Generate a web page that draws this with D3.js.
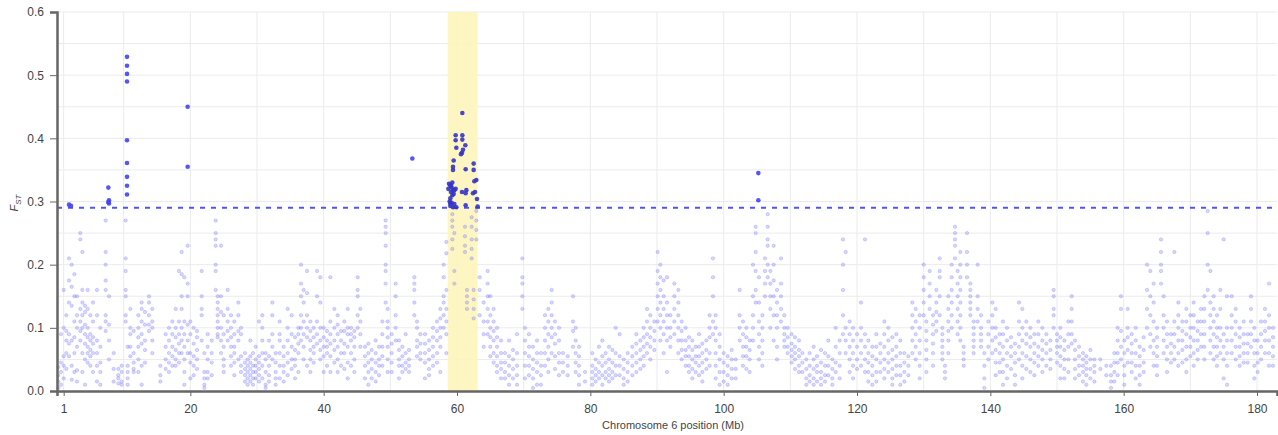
<!DOCTYPE html>
<html>
<head>
<meta charset="utf-8">
<script src="https://cdn.jsdelivr.net/npm/d3@7"></script>
<style>
  body { margin: 0; background: #fff; }
  svg { display: block; font-family: "Liberation Sans", Arial, sans-serif; }
  .grid line { stroke: #ebebeb; stroke-width: 1; }
  .axis path, .axis line { stroke: #666; }
  .axis text { fill: #444; font-size: 12px; }
</style>
</head>
<body>
<svg id="chart" width="1278" height="435"></svg>
<script>
// threshold and highlighted window (Mb)
const threshold = 0.29;
const windowMb = [58.6, 63.1];
const xTicks = [1, 20, 40, 60, 80, 100, 120, 140, 160, 180];
const yTicks = [0, 0.1, 0.2, 0.3, 0.4, 0.5, 0.6];

// SNPs above threshold
const sigPos = [1.8, 2.1, 7.7, 7.8, 7.7, 7.8,
    10.5, 10.5, 10.5, 10.5, 10.5, 10.5, 10.5, 10.5, 10.5,
    19.6, 19.6, 53.3,
    60.8, 59.8, 59.8, 60.8, 60.8, 59.9, 61.25, 60.9, 60.75, 60.6, 59.5, 59.4, 59.4, 61.3, 62.5, 62.5, 62.9, 62.6,
    58.8, 59.0, 59.2, 59.4, 59.1, 59.5, 59.3, 59.0, 59.6, 59.8, 58.9, 59.2, 59.6, 59.0, 59.4, 58.7, 59.1, 59.3,
    60.75, 61.4, 61.3, 62.4, 62.7, 63.0, 63.1, 61.3, 59.9, 59.0,
    105.2, 105.2];
const sigFst = [0.295, 0.293, 0.322, 0.302, 0.299, 0.297,
    0.529, 0.515, 0.502, 0.490, 0.397, 0.361, 0.339, 0.325, 0.311,
    0.450, 0.355, 0.368,
    0.440, 0.405, 0.397, 0.405, 0.398, 0.385, 0.389, 0.382, 0.377, 0.375, 0.365, 0.355, 0.350, 0.351, 0.360, 0.350, 0.334, 0.332,
    0.328, 0.325, 0.322, 0.318, 0.315, 0.312, 0.310, 0.305, 0.318, 0.320, 0.300, 0.298, 0.296, 0.293, 0.291, 0.320, 0.326, 0.330,
    0.315, 0.318, 0.313, 0.313, 0.315, 0.304, 0.292, 0.294, 0.291, 0.297,
    0.345, 0.302];

// background SNPs: [position Mb, Fst x1000 ...]
const bg0to20 = [
  [0.2, 5, 15, 25, 38], [0.6, 10, 30, 45, 90], [1.0, 160, 100, 55, 40, 20], [1.4, 120, 95, 80, 60, 35],
  [1.8, 210, 175, 140, 90, 75, 55], [2.2, 200, 165, 135, 80, 40, 18], [2.6, 185, 150, 110, 85, 60, 30],
  [3.0, 150, 120, 100, 70, 33, 15], [3.5, 250, 240, 130, 110, 95, 80], [3.8, 220, 160, 140, 120, 100, 60, 30],
  [4.2, 135, 125, 105, 90, 75, 50, 10], [4.6, 160, 130, 100, 85, 70, 60, 45], [5.0, 120, 90, 80, 65, 55, 40],
  [5.4, 140, 110, 85, 75, 60, 30], [6.0, 160, 120, 80, 60, 40, 15], [6.5, 100, 70, 45, 30, 10],
  [7.3, 270, 220, 200, 175, 160, 120, 110, 95], [7.8, 150, 105, 80, 50], [8.5, 60, 35, 15],
  [9.2, 35, 20, 12, 25], [9.7, 30, 15, 10, 40], [10.3, 270, 210, 190, 160, 150, 120, 110],
  [10.6, 70, 40, 30, 20, 10], [11.0, 130, 100, 90, 70, 55], [11.5, 60, 45, 35, 30, 95],
  [12.2, 120, 100, 85, 70, 50, 30], [12.7, 140, 130, 110, 90, 75, 40, 10], [13.2, 125, 105, 80, 65, 45],
  [13.8, 150, 140, 120, 105, 95], [14.3, 130, 110, 100, 80, 60], [15.5, 40, 25, 15],
  [16.3, 90, 70, 50, 35], [16.8, 100, 80, 60, 45, 30], [17.3, 110, 90, 70, 55, 40],
  [17.8, 130, 100, 85, 65, 50, 40], [18.3, 190, 110, 90, 75, 60, 45], [18.7, 220, 185, 150, 130, 100, 80, 60],
  [19.1, 180, 110, 90, 70, 50, 30, 10], [19.6, 230, 170, 150, 105, 80, 60]
];
const bg20to40 = [
  [20.0, 110, 90, 60, 45, 20], [20.5, 100, 75, 55, 40, 25], [21.0, 95, 85, 65, 50, 35],
  [21.7, 190, 150, 130, 120, 80], [22.1, 60, 30, 20, 10, 5], [22.6, 90, 70, 50, 30, 20],
  [23.2, 80, 60, 45, 25], [23.8, 270, 250, 240, 230, 200, 190, 160], [24.1, 150, 140, 130, 120, 110, 100, 90, 85],
  [24.6, 230, 150, 125, 100, 80, 60], [25.0, 120, 90, 70, 50, 40, 30], [25.6, 160, 130, 110, 95, 80],
  [26.1, 120, 100, 85, 70, 55, 40], [26.6, 110, 90, 70, 60, 45, 25], [27.2, 140, 120, 95, 80, 50],
  [27.6, 100, 90, 55, 40, 30], [28.2, 60, 45, 35, 25, 15], [28.6, 50, 40, 30, 20, 10],
  [29.0, 80, 55, 45, 35, 25, 15], [29.4, 60, 40, 30, 20, 10], [29.8, 70, 50, 40, 30, 20],
  [30.3, 110, 55, 45, 35, 25, 15], [30.8, 120, 100, 80, 60, 40, 20], [31.3, 60, 50, 30, 10, 5],
  [31.8, 80, 55, 40, 25, 15], [32.3, 140, 120, 90, 70, 50], [32.8, 60, 45, 30, 20, 10],
  [33.4, 110, 90, 80, 60, 40, 20], [34.0, 70, 55, 40, 30, 15], [34.6, 130, 100, 80, 60, 45, 25],
  [35.2, 120, 90, 70, 50, 35], [35.7, 85, 65, 50, 40, 20], [36.2, 100, 90, 75, 60, 30],
  [36.6, 200, 170, 150, 120, 100, 80], [37.0, 160, 140, 110, 90, 70, 50], [37.5, 190, 155, 120, 100, 85, 40],
  [38.0, 110, 95, 80, 65, 50, 30], [38.5, 100, 85, 70, 60, 45], [39.0, 190, 150, 110, 90, 75],
  [39.5, 180, 140, 100, 80, 65, 50]
];
const bg40to60 = [
  [40.0, 100, 85, 70, 55, 30], [40.5, 95, 80, 70, 60, 40], [41.0, 180, 110, 90, 75, 55, 30],
  [41.6, 130, 100, 80, 65, 45], [42.1, 120, 105, 90, 70, 50, 30], [42.6, 95, 80, 60, 40],
  [43.1, 110, 95, 75, 60, 35], [43.6, 130, 100, 90, 70, 45, 20], [44.1, 100, 90, 80, 60, 40],
  [44.6, 95, 85, 70, 50, 30], [45.1, 180, 160, 150, 120, 100], [45.5, 130, 110, 90, 70],
  [46.2, 70, 55, 40, 20], [46.7, 75, 60, 45, 30, 10], [47.2, 65, 50, 35, 20],
  [47.8, 80, 60, 45, 30, 15], [48.3, 70, 50, 40, 25], [48.8, 110, 90, 70, 55, 40],
  [49.3, 270, 260, 250, 230, 200, 190, 170, 140], [49.6, 130, 110, 100, 85, 70, 50, 30], [50.2, 90, 75, 60, 45, 30],
  [50.8, 170, 150, 120, 100, 80], [51.3, 80, 65, 50, 40, 20], [51.8, 70, 55, 40, 30],
  [52.3, 90, 60, 45, 35], [52.8, 65, 50, 40, 30], [53.6, 180, 170, 160, 140, 120],
  [54.0, 110, 100, 80, 70, 55], [54.5, 90, 75, 60, 50], [55.2, 90, 75, 60, 45, 20],
  [55.8, 80, 65, 50, 35, 25], [56.4, 100, 85, 70, 55, 40], [57.0, 110, 95, 80, 60, 45],
  [57.5, 130, 115, 100, 85, 70, 30], [58.0, 200, 180, 150, 140, 120, 100], [58.4, 236, 218, 160, 130, 110, 90, 60],
  [59.3, 280, 270, 260, 240, 225], [59.6, 250, 190, 170], [61.2, 260, 245, 230, 220],
  [61.5, 160, 150, 140, 130], [62.2, 275, 260, 240, 225, 210], [62.5, 160, 145, 130, 115],
  [62.9, 285, 270, 255, 240]
];
const bg60to84 = [
  [63.4, 180, 160, 120], [64.0, 140, 110, 90, 70], [64.6, 190, 170, 150, 130, 110, 90],
  [65.0, 150, 120, 100, 85, 70, 55], [65.5, 130, 110, 95, 80, 60, 45], [66.0, 100, 85, 70, 55, 40, 30],
  [66.6, 80, 60, 45, 35, 20], [67.2, 60, 45, 30, 20], [67.8, 80, 55, 40, 25, 10],
  [68.4, 65, 50, 35, 20], [69.0, 90, 60, 40, 25, 10], [69.8, 210, 180, 170, 150, 130],
  [70.2, 100, 80, 60, 40, 20], [70.8, 90, 70, 55, 40, 25], [71.4, 70, 50, 35, 20, 5],
  [72.0, 80, 60, 45, 30, 10], [72.6, 60, 40, 25, 10], [73.2, 120, 100, 80, 60, 40],
  [73.7, 130, 110, 90, 70, 50, 30], [74.2, 160, 140, 120, 100, 85, 60], [74.7, 110, 90, 75, 55, 35],
  [75.3, 100, 80, 60, 45, 25], [75.9, 60, 45, 30], [76.6, 55, 40, 25],
  [77.4, 150, 110, 95, 70], [77.8, 100, 80, 60, 45, 30], [78.3, 70, 55, 40, 25, 10],
  [79.2, 30, 15], [80.3, 60, 40, 30, 20, 10], [80.8, 50, 35, 25, 15],
  [81.3, 70, 45, 30, 20], [81.8, 80, 55, 40, 25, 10], [82.3, 60, 45, 30, 20],
  [82.8, 70, 50, 35, 25, 15], [83.3, 65, 45, 30, 20], [83.8, 100, 60, 40, 25]
];
const bg84to104 = [
  [84.4, 90, 55, 40, 25], [85.0, 50, 35, 20, 10], [85.6, 60, 45, 30, 15],
  [86.3, 70, 55, 40, 25], [86.9, 90, 75, 60, 45, 30], [87.5, 80, 65, 50, 35],
  [88.0, 100, 85, 70, 55, 40], [88.5, 130, 110, 90, 75, 60], [89.0, 120, 100, 85, 70, 50],
  [89.6, 110, 95, 80, 65], [90.1, 220, 190, 170, 150, 130, 110], [90.5, 200, 180, 160, 140, 120, 100, 80],
  [91.0, 175, 150, 130, 110, 90, 60], [91.5, 180, 140, 120, 100, 80, 30], [92.0, 120, 100, 85, 70],
  [92.6, 170, 150, 130, 110, 90], [93.2, 160, 140, 120, 100, 80, 60], [93.7, 110, 95, 80, 65, 50],
  [94.3, 100, 80, 65, 55, 40], [94.8, 85, 70, 55, 40, 30], [95.3, 80, 65, 50, 35, 20],
  [95.8, 70, 55, 45, 30], [96.3, 90, 70, 55, 40, 25], [96.8, 75, 60, 45, 30, 15],
  [97.4, 80, 65, 50, 35], [97.9, 120, 100, 85, 60, 40], [98.4, 210, 180, 150, 110, 90],
  [98.8, 120, 100, 80, 60, 40, 20], [99.4, 90, 70, 50, 30, 10], [100.0, 60, 45, 30, 15],
  [100.6, 55, 40, 25, 10], [101.2, 65, 50, 35, 20], [101.8, 50, 35, 20],
  [102.4, 160, 120, 100, 80], [102.9, 110, 90, 70, 55, 40], [103.4, 100, 85, 70, 55, 35],
  [103.9, 80, 65, 50, 30]
];
const bg104to124 = [
  [104.4, 200, 150, 120, 100, 80], [104.8, 260, 250, 220, 190, 160, 140], [105.3, 180, 140, 110, 90, 70, 50],
  [105.8, 120, 100, 80, 60, 40], [106.2, 210, 190, 170, 150], [106.6, 280, 260, 240, 230, 200, 180],
  [107.0, 190, 170, 150, 130, 100], [107.5, 230, 200, 175, 150, 120, 80], [108.0, 160, 140, 120, 100, 70, 50],
  [108.6, 210, 170, 150, 130, 110], [109.1, 120, 100, 90, 80, 70], [109.6, 100, 85, 70, 60],
  [110.2, 90, 75, 65, 55, 45], [110.7, 85, 70, 60, 50, 35], [111.3, 80, 65, 55, 40, 30],
  [111.8, 60, 45, 30], [112.4, 50, 35, 20, 10], [112.9, 60, 40, 25, 15],
  [113.5, 70, 50, 35, 20, 10], [114.0, 55, 40, 30, 15], [114.6, 65, 45, 30, 20, 10],
  [115.2, 60, 40, 25, 15], [115.7, 80, 55, 40, 25], [116.3, 50, 35, 20, 10],
  [116.8, 100, 70, 45, 30], [117.4, 80, 60, 40, 20], [117.9, 240, 200, 160, 120, 90],
  [118.3, 220, 100, 80, 60], [118.9, 110, 90, 70, 50, 30], [119.4, 100, 80, 60, 40, 20],
  [120.0, 90, 70, 50, 35], [120.6, 140, 100, 80, 60, 40], [121.2, 240, 90, 70, 50, 30],
  [121.7, 80, 60, 45, 30, 15], [122.3, 70, 55, 40, 25, 10], [122.9, 90, 70, 50, 30, 15],
  [123.5, 75, 60, 45, 30]
];
const bg124to144 = [
  [124.1, 110, 90, 70, 50, 35, 20], [124.7, 100, 80, 60, 45, 30], [125.3, 85, 65, 50, 35, 20, 10],
  [125.9, 90, 70, 55, 40, 25], [126.5, 80, 60, 40, 25, 10], [127.1, 60, 45, 30, 15],
  [127.7, 55, 40, 25], [128.3, 140, 120, 100, 80, 60], [128.8, 130, 110, 90, 70, 50],
  [129.4, 120, 100, 80, 60, 40, 20], [130.0, 200, 180, 160, 140, 120], [130.4, 110, 95, 80, 65, 50, 30],
  [130.9, 190, 170, 150, 130], [131.4, 120, 105, 90, 75, 60, 40], [131.9, 160, 140, 125, 110, 95],
  [132.4, 210, 190, 180, 150, 120], [132.8, 100, 90, 80, 70, 60, 50], [133.2, 40, 30, 20],
  [133.7, 150, 130, 110, 95, 80, 60], [134.2, 200, 180, 160, 140, 120, 100], [134.7, 260, 250, 240, 230, 210],
  [135.1, 190, 170, 150, 130, 110, 90], [135.5, 220, 200, 180, 160, 140, 120, 100, 80], [136.0, 70, 60, 50, 40],
  [136.5, 250, 220, 200, 180], [137.0, 170, 160, 150, 140, 130, 120], [137.5, 110, 100, 90, 80, 70, 60],
  [138.1, 200, 150, 130, 110], [138.6, 120, 100, 90, 80, 70], [139.1, 60, 40, 20, 5],
  [139.7, 110, 90, 70, 50], [140.3, 140, 120, 100, 80, 60], [140.8, 130, 100, 85, 65, 45, 25],
  [141.4, 90, 75, 60, 45, 30], [141.9, 110, 90, 70, 50, 30, 10], [142.5, 100, 80, 60, 40, 20],
  [143.1, 85, 70, 55, 35], [143.7, 75, 60, 45, 25, 10]
];
const bg144to163 = [
  [144.3, 140, 110, 90, 70, 50], [144.8, 130, 100, 80, 60, 40, 20], [145.4, 110, 90, 75, 55, 35],
  [146.0, 100, 85, 70, 50, 30], [146.6, 90, 75, 60, 45, 25], [147.2, 110, 90, 70, 55, 40],
  [147.8, 100, 80, 65, 50, 30], [148.4, 90, 75, 60, 40], [149.0, 80, 65, 50, 35],
  [149.5, 160, 150, 130, 120, 100], [150.0, 90, 80, 70, 60, 45], [150.5, 100, 85, 70, 55, 40, 20],
  [151.1, 80, 65, 50, 35, 20], [151.7, 110, 90, 70, 50, 30], [152.2, 150, 130, 110, 90, 75],
  [152.7, 80, 65, 50, 35, 20], [153.3, 70, 55, 40, 25], [153.9, 60, 50, 40, 30, 15],
  [154.4, 55, 45, 35, 25, 10], [155.0, 65, 50, 35, 20], [155.6, 50, 40, 30, 15],
  [156.5, 50, 35], [157.4, 40, 25], [158.1, 40, 25, 15, 5],
  [158.6, 60, 45, 30, 15], [159.1, 100, 80, 60, 45, 25], [159.6, 150, 130, 95, 70, 50],
  [160.1, 80, 60, 40, 25, 10], [160.6, 130, 100, 85, 65, 45], [161.2, 90, 75, 60, 45, 30],
  [161.8, 100, 80, 60, 40, 20], [162.4, 70, 55, 40, 25, 10], [163.0, 85, 65, 45, 30]
];
const bg163to183 = [
  [163.5, 200, 160, 130, 100], [164.0, 190, 150, 120, 90, 70], [164.5, 170, 140, 110, 80, 60, 40],
  [165.0, 100, 85, 70, 55, 40, 25], [165.6, 240, 220, 200, 190, 170], [166.0, 150, 120, 100, 80, 60],
  [166.5, 110, 90, 70, 50, 30], [167.1, 90, 75, 60, 45], [167.6, 220, 110, 90, 70, 50],
  [168.2, 140, 120, 100, 80, 60, 40], [168.8, 110, 95, 80, 65, 45], [169.4, 130, 110, 90, 70, 50, 30],
  [170.0, 120, 100, 85, 70, 55], [170.5, 140, 120, 100, 80, 60, 40], [171.1, 110, 95, 80, 65, 50],
  [171.6, 130, 110, 90, 70], [172.1, 150, 130, 110, 90, 70, 50], [172.6, 285, 250, 200, 160],
  [173.0, 190, 140, 120, 100, 80, 60], [173.5, 150, 130, 110, 90, 70, 50], [174.0, 120, 100, 85, 70, 55, 40],
  [174.5, 160, 130, 100, 80, 60], [175.0, 240, 90, 70, 50, 20], [175.5, 150, 100, 80, 60, 40, 10],
  [176.2, 150, 120, 100, 80, 60], [176.8, 130, 110, 90, 70, 50], [177.4, 100, 85, 70, 55, 40],
  [178.0, 110, 90, 75, 60, 45], [178.6, 90, 75, 60, 45], [179.1, 150, 130, 110, 90, 70],
  [179.6, 100, 80, 60, 40, 20], [180.1, 80, 60, 45, 30], [180.6, 110, 90, 70, 50],
  [181.2, 130, 110, 95, 80, 60], [181.8, 170, 120, 100, 80, 60, 40], [182.4, 100, 85, 70, 55, 40]
];

const bgColumns = [].concat(bg0to20, bg20to40, bg40to60, bg60to84, bg84to104,
    bg104to124, bg124to144, bg144to163, bg163to183);

// flatten columns into points
let bgPoints = [];
bgColumns.forEach((col) => {
    for (let i = 1; i < col.length; ++i) {
        bgPoints.push({ pos: col[0], fst: col[i] / 1000 });
    }
});
const sigPoints = sigPos.map((p, i) => ({ pos: p, fst: sigFst[i] }));

const svg = d3.select('#chart');
const margin = { top: 12, right: 1, bottom: 44, left: 57 };
const width = 1278 - margin.left - margin.right;
const height = 435 - margin.top - margin.bottom;

const chart = svg.append('g')
    .attr('transform', `translate(${margin.left}, ${margin.top})`);

const xScale = d3.scaleLinear().domain([0, 183]).range([0, width]);
const yScale = d3.scaleLinear().domain([0, 0.6]).range([height, 0]);

// grid
chart.append('g')
    .attr('class', 'grid')
    .selectAll('line.h')
    .data(d3.range(1, 13).map((d) => d * 0.05))
    .enter()
    .append('line')
    .attr('x1', 0)
    .attr('x2', width)
    .attr('y1', (d) => yScale(d))
    .attr('y2', (d) => yScale(d));

chart.append('g')
    .attr('class', 'grid')
    .selectAll('line.v')
    .data([1].concat(d3.range(10, 190, 10)))
    .enter()
    .append('line')
    .attr('x1', (d) => xScale(d))
    .attr('x2', (d) => xScale(d))
    .attr('y1', 0)
    .attr('y2', height);

// highlighted window
chart.append('rect')
    .attr('x', xScale(windowMb[0]))
    .attr('y', 0)
    .attr('width', xScale(windowMb[1]) - xScale(windowMb[0]))
    .attr('height', height)
    .attr('fill', '#fdf5bd')
    .attr('opacity', 0.9);

// background SNPs
chart.append('g')
    .selectAll('circle')
    .data(bgPoints)
    .enter()
    .append('circle')
    .attr('cx', (d) => xScale(d.pos))
    .attr('cy', (d) => yScale(d.fst))
    .attr('r', 1.7)
    .attr('fill', '#4a4aff')
    .attr('fill-opacity', 0.22)
    .attr('stroke', '#5050ff')
    .attr('stroke-opacity', 0.35)
    .attr('stroke-width', 0.6);

// threshold
chart.append('line')
    .attr('x1', 0)
    .attr('x2', width)
    .attr('y1', yScale(threshold))
    .attr('y2', yScale(threshold))
    .attr('stroke', '#5252ff')
    .attr('stroke-width', 2)
    .attr('stroke-dasharray', '5,6');

// SNPs above threshold
chart.append('g')
    .selectAll('circle')
    .data(sigPoints)
    .enter()
    .append('circle')
    .attr('cx', (d) => xScale(d.pos))
    .attr('cy', (d) => yScale(d.fst))
    .attr('r', 2.3)
    .attr('fill', (d) => (d.pos >= windowMb[0] && d.pos <= windowMb[1]) ? '#3434c8' : '#4444f5')
    .attr('fill-opacity', 0.9);

// axes
const yAxis = chart.append('g')
    .attr('class', 'axis')
    .call(d3.axisLeft(yScale).tickValues(yTicks).tickFormat(d3.format('.1f')).tickSize(7).tickPadding(6));
yAxis.select('.domain').attr('stroke-width', 2.5);

const xAxis = chart.append('g')
    .attr('class', 'axis')
    .attr('transform', `translate(0, ${height})`)
    .call(d3.axisBottom(xScale).tickValues(xTicks).tickSizeOuter(0).tickSize(5).tickPadding(8));
xAxis.select('.domain').attr('stroke-width', 2.5);

// labels
svg.append('text')
    .attr('x', margin.left + width / 2 + 6)
    .attr('y', 429)
    .attr('text-anchor', 'middle')
    .attr('fill', '#444')
    .style('font-size', '11px')
    .text('Chromosome 6 position (Mb)');

const yLabel = svg.append('text')
    .attr('transform', 'translate(18, 203) rotate(-90)')
    .attr('text-anchor', 'middle')
    .attr('fill', '#444')
    .style('font-size', '11px')
    .style('font-style', 'italic');
yLabel.append('tspan').text('F');
yLabel.append('tspan')
    .attr('dy', 3)
    .style('font-size', '8px')
    .text('ST');
</script>
</body>
</html>
